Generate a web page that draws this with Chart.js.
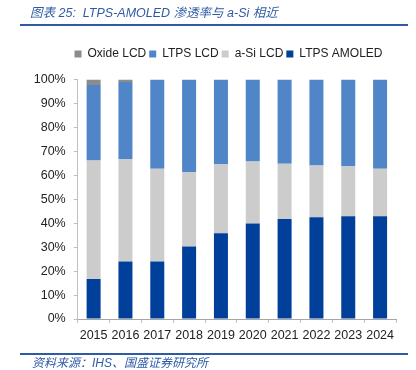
<!DOCTYPE html>
<html>
<head>
<meta charset="utf-8">
<script src="https://cdn.jsdelivr.net/npm/chart.js@4/dist/chart.umd.min.js"></script>
<style>
  html, body { margin: 0; padding: 0; background: #fff; }
  #wrap { position: relative; width: 416px; height: 370px; overflow: hidden; }
  #c { position: absolute; left: 0; top: 0; }
  .cap { position: absolute; font-family: "Liberation Sans", "Noto Sans CJK SC", sans-serif; font-style: italic; color: #2f5aa5; white-space: nowrap; }
  .rule { position: absolute; left: 20px; width: 388px; height: 1.5px; background: #2f5aa5; }
</style>
</head>
<body>
<div id="wrap">
  <canvas id="c" width="416" height="370"></canvas>
  <div class="cap" style="left:30px; top:2px; font-size:12.5px;">图表 25:&nbsp; LTPS-AMOLED 渗透率与 a-Si 相近</div>
  <div class="rule" style="top:24px;"></div>
  <div class="rule" style="top:353px;"></div>
  <div class="cap" style="left:32px; top:353px; font-size:12px;">资料来源：IHS、国盛证券研究所</div>
</div>
<script>
const categories = ['2015','2016','2017','2018','2019','2020','2021','2022','2023','2024'];
const ltpsAmoled = [16.7, 24.0, 24.0, 30.3, 35.8, 39.9, 41.8, 42.5, 42.9, 42.9];
const aSiLcd     = [49.5, 42.8, 38.7, 31.1, 28.9, 25.9, 23.0, 21.6, 21.0, 19.8];
const ltpsLcd    = [31.5, 32.2, 37.3, 38.6, 35.3, 34.2, 35.2, 35.9, 36.1, 37.3];
const oxideLcd   = [2.3, 1.0, 0, 0, 0, 0, 0, 0, 0, 0];
const yTicks = [0,10,20,30,40,50,60,70,80,90,100];

const FONT = { family: '"Liberation Sans", Arial, sans-serif', size: 12.5 };
const LFONT = { family: '"Liberation Sans", Arial, sans-serif', size: 12 };

const legendTweak = {
  id: 'legendTweak',
  beforeInit(chart) {
    const lg = chart.legend;
    if (lg && !lg._patched) {
      const orig = lg.fit;
      lg.fit = function () { orig.call(this); this.height += 9.5; };
      lg._patched = true;
    }
  },
  afterLayout(chart) {
    const lg = chart.legend;
    if (lg) { lg.left += 14; lg.right += 14; }
  }
};

new Chart(document.getElementById('c'), {
  type: 'bar',
  data: {
    labels: categories,
    datasets: [
      { label: 'LTPS AMOLED', data: ltpsAmoled, backgroundColor: '#00409a' },
      { label: 'a-Si LCD', data: aSiLcd, backgroundColor: '#cccccc' },
      { label: 'LTPS LCD', data: ltpsLcd, backgroundColor: '#5086c8' },
      { label: 'Oxide LCD', data: oxideLcd, backgroundColor: '#8c8c8c' }
    ]
  },
  options: {
    responsive: false,
    animation: false,
    devicePixelRatio: 1,
    layout: { padding: { left: 33, right: 20, top: 45, bottom: 22 } },
    datasets: { bar: { categoryPercentage: 1, barPercentage: 0.44, borderWidth: 0 } },
    plugins: {
      legend: {
        position: 'top',
        reverse: true,
        labels: { boxWidth: 7, boxHeight: 7, padding: 3, color: '#222', font: LFONT }
      },
      tooltip: { enabled: false }
    },
    scales: {
      x: {
        stacked: true,
        grid: { display: true, drawOnChartArea: false, drawTicks: true, tickLength: 4, color: '#bfbfbf', offset: true },
        border: { display: true, color: '#a6a6a6' },
        ticks: { color: '#222', font: FONT, padding: 5, maxRotation: 0 }
      },
      y: {
        stacked: true,
        min: 0, max: 100,
        afterBuildTicks(scale) { scale.ticks = yTicks.map(v => ({ value: v })); },
        afterFit(scale) { scale.width = 44.7; },
        grid: { display: true, drawOnChartArea: false, drawTicks: true, tickLength: 4, color: '#bfbfbf' },
        border: { display: true, color: '#bfbfbf' },
        ticks: { color: '#222', font: FONT, padding: 8, callback: v => v + '%' }
      }
    }
  },
  plugins: [legendTweak]
});
</script>
</body>
</html>
